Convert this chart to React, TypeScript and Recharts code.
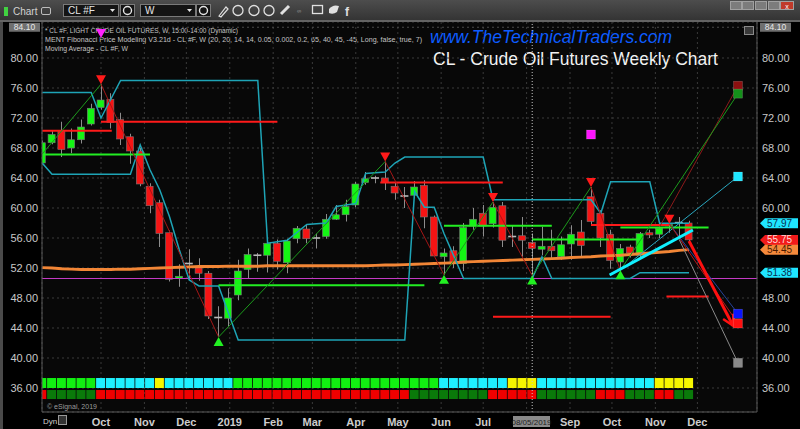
import React from "react";
import {
  ComposedChart,
  Bar,
  Line,
  XAxis,
  YAxis,
  CartesianGrid,
  ReferenceLine,
  ReferenceDot,
} from "recharts";

// weekly bars, week 0 = week of 2018-10-01
const WEEKS = [
  -6, -5, -4, -3, -2, -1,
  0, 1, 2, 3, 4, 5, 6, 7, 8, 9,
  10, 11, 12, 13, 14, 15, 16, 17, 18, 19,
  20, 21, 22, 23, 24, 25, 26, 27, 28, 29,
  30, 31, 32, 33, 34, 35, 36, 37, 38, 39,
  40, 41, 42, 43, 44, 45, 46, 47, 48, 49,
  50, 51, 52, 53, 54, 55, 56, 57, 58, 59,
  60,
];

const OPEN = [
  66.0, 68.7, 70.2, 68.0, 69.1, 71.2,
  73.4, 74.5, 71.8, 69.5, 67.6, 62.9, 60.7, 56.7, 50.6, 52.55,
  52.0, 51.3, 45.35, 45.3, 48.4, 51.8, 53.75, 53.7, 55.3, 52.7,
  55.9, 57.2, 55.95, 56.2, 58.5, 59.1, 60.4, 63.4, 63.95, 64.0,
  62.9, 61.65, 61.7, 63.0, 58.8, 53.5, 54.3, 52.6, 57.6, 59.3,
  57.9, 60.3, 56.15, 56.3, 55.4, 54.5, 54.9, 53.5, 55.2, 56.8,
  61.5, 59.3, 56.5, 52.8, 54.8, 53.7, 56.7, 56.5, 57.6, 58.0,
  58.0,
];
const HIGH = [
  69.0, 70.3, 71.5, 70.6, 71.8, 73.9,
  76.5, 75.3, 72.7, 69.9, 68.0, 63.3, 61.1, 57.0, 52.5, 54.5,
  53.3, 51.6, 46.9, 49.3, 53.1, 54.6, 54.0, 56.0, 55.8, 55.9,
  57.6, 57.8, 56.6, 59.2, 60.4, 61.1, 63.5, 64.8, 64.3, 66.2,
  63.5, 62.8, 63.6, 63.7, 59.0, 54.6, 54.9, 58.0, 60.0, 60.4,
  60.8, 60.8, 57.6, 58.8, 56.6, 57.5, 57.1, 56.2, 57.7, 58.4,
  62.8, 59.7, 57.1, 55.2, 55.1, 56.8, 57.1, 57.7, 57.9, 58.8,
  58.3,
];
const LOW = [
  65.8, 68.5, 66.8, 67.3, 68.6, 71.0,
  73.1, 70.6, 68.4, 65.9, 62.9, 59.3, 54.8, 50.2, 49.5, 50.4,
  50.3, 45.2, 42.8, 44.2, 47.7, 50.6, 51.5, 51.4, 51.8, 51.3,
  55.3, 55.3, 54.6, 55.9, 58.4, 58.2, 60.1, 63.1, 63.3, 62.4,
  61.1, 60.0, 61.3, 57.3, 53.5, 51.1, 52.0, 51.6, 57.1, 56.2,
  57.4, 54.8, 54.8, 53.5, 51.0, 53.7, 53.3, 53.1, 53.1, 53.5,
  57.7, 54.8, 51.9, 51.7, 53.4, 53.3, 56.0, 56.0, 56.7, 56.2,
  55.6,
];
const CLOSE = [
  68.7, 69.8, 67.8, 69.1, 70.8, 73.3,
  74.4, 71.4, 69.2, 67.6, 63.2, 60.3, 56.6, 50.5, 50.9, 52.6,
  51.3, 45.6, 45.4, 48.0, 51.6, 53.8, 53.7, 55.3, 52.9, 55.6,
  57.3, 55.9, 56.0, 58.5, 59.1, 60.2, 63.2, 63.9, 64.0, 63.4,
  62.0, 61.6, 62.8, 58.8, 53.6, 54.0, 52.6, 57.4, 58.5, 57.6,
  60.1, 55.7, 56.2, 55.7, 54.6, 54.9, 54.3, 55.1, 56.5, 55.0,
  58.2, 56.0, 53.0, 54.6, 54.0, 56.6, 56.4, 57.3, 57.8, 58.05,
  55.75,
];

// long moving average
const MA = [
  52.05, 52.0, 51.9, 51.85, 51.8, 51.8,
  51.8, 51.8, 51.85, 51.85, 51.9, 51.95, 52.0, 52.05, 52.1, 52.15,
  52.2, 52.2, 52.2, 52.25, 52.25, 52.25, 52.25, 52.3, 52.3, 52.3,
  52.3, 52.3, 52.3, 52.3, 52.3, 52.3, 52.3, 52.3, 52.35, 52.4,
  52.4, 52.45, 52.5, 52.55, 52.6, 52.65, 52.7, 52.8, 52.85, 52.9,
  52.95, 53.0, 53.05, 53.1, 53.15, 53.2, 53.25, 53.3, 53.4, 53.45,
  53.5, 53.6, 53.65, 53.7, 53.8, 53.9, 54.0, 54.1, 54.2, 54.35,
  54.45,
];

// Fibonacci channel, only the turning points are set
const UPPER = [
  75.4, null, null, null, null, 75.4,
  72.0, null, 77.0, null, null, null, null, null, null, null,
  null, null, null, null, null, null, 77.0, 55.3, null, 55.7,
  null, 57.8, null, 58.0, 60.2, 60.4, 60.6, 64.6, null, 64.8,
  66.0, 66.8, null, null, null, null, null, null, null, 66.8,
  61.1, null, null, null, null, null, null, null, null, null,
  61.1, 59.3, 63.5, null, null, null, 63.5, 57.97, null, null,
  57.97,
];
const LOWER = [
  66.0, 64.5, null, null, null, null,
  null, null, null, 64.5, 68.4, 65.1, 62.4, 58.8, 54.4, 50.4,
  49.6, null, 49.6, null, 42.4, null, null, null, null, null,
  null, null, null, null, null, null, null, null, null, null,
  null, 42.4, 62.2, 60.1, 60.1, 56.6, null, 50.6, null, null,
  null, null, null, null, 50.6, 53.5, 50.6, null, null, null,
  null, null, null, null, 50.6, 51.38, null, null, null, null,
  51.38,
];

// signal strip: g green, c cyan, y yellow / r red, d dark green
const TOP_ROW = (
  "gggggg" + "cccccc" + "y" + "ccccccc" + "ggggggggggggggggggggg" +
  "ccccccc" + "yyy" + "cccccccccccc" + "yyyy"
).split("");
const BOT_ROW = (
  "r" + "ddddd" + "rrrrrrrrrrrrrrrrrrrrrrrrrrrrrrrr" + "dddddddd" +
  "rrrrr" + "dddddd" + "rrr" + "ddd" + "rr" + "dd"
).split("");

const MONTH_TICKS = [0, 4.43, 8.71, 13.14, 17.57, 21.57, 26, 30.29, 34.71, 39, 43.43, 47.86, 52.14, 56.57, 60.86];
const MONTH_LABELS = ["Oct", "Nov", "Dec", "2019", "Feb", "Mar", "Apr", "May", "Jun", "Jul", "Aug", "Sep", "Oct", "Nov", "Dec"];
const PRICE_TICKS = [36, 40, 44, 48, 52, 56, 60, 64, 68, 72, 76, 80];
// 52 and 56 sit under the price tags on the right scale
const RIGHT_TICKS = [36, 40, 44, 48, 60, 64, 68, 72, 76, 80];

// [from week, to week, price]
const RED_LEVELS = [
  [-6, 1.1, 70.3],
  [0, 18, 71.5],
  [28.5, 41, 63.4],
  [50, 58, 57.75],
  [40, 52, 45.5],
  [57.7, 62, 48.2],
];
const GREEN_LEVELS = [
  [-6, 5, 67.15],
  [12, 33, 49.7],
  [35, 46, 57.65],
  [44, 55, 55.8],
  [53, 62, 57.4],
];

// zigzag pivots
const PIVOT_W = [-6, 0, 12, 29, 35, 40, 44, 50, 53];
const PIVOT_V = [67.2, 76.5, 42.8, 66.2, 51.1, 60.8, 51.0, 62.8, 51.7];
const TOP_MARKS = [[0, 76.5], [29, 66.2], [40, 60.8], [50, 62.8], [58, 57.9]];
const BOTTOM_MARKS = [[12, 42.8], [35, 51.1], [44, 51.0], [53, 51.7]];

// projection targets
const TARGET_W = 65;
const TARGET_V = [76.3, 75.25, 64.2, 45.9, 44.6, 39.35];
const TARGET_FROM_W = [57, 53, 53, 58, 58, 59];
const TARGET_FROM_V = [57.5, 51.7, 51.7, 57.9, 57.9, 55.8];
const TREND_FROM = [51.9, 51.07];
const TREND_TO = [60.4, 57.07];
const ARROW_FROM = [60, 55.6];
const ARROW_TO = [64.5, 44.3];

const MAGENTA_LEVEL = 50.6;
const HEADER_PRICE = 84.1;
const CURSOR_WEEK = 44;
const CHANNEL_HIGH = 57.97;
const CHANNEL_LOW = 51.38;
const LAST_PRICE = 55.75;
const MA_LAST = 54.45;

const X_MIN = -6.02;
const X_MAX = 66.94;
const Y_MIN = 32.8;
const Y_MAX = 84.8;
const STRIP = [34.53, 37.33];
const STRIP_GAP = [35.73, 36.0];

const FONT = "'Liberation Sans', Arial, sans-serif";
const TEAL = "#1ea4b6";
const CELL_COLORS: Record<string, string> = {
  g: "#12f012",
  c: "#1ff0ff",
  y: "#f5f500",
  r: "#f00000",
  d: "#0a7a0a",
};
const TARGET_COLORS = ["#8c1010", "#14901a", "#1fe6ff", "#0a14ff", "#ff1010", "#8a8a8a"];
const TARGET_LINES = ["#8c1a1a", "#1c9a1c", "#2aa8c0", "#27439a", "#b51818", "#8a8a8a"];

function Candle(props: any) {
  const { x, y, width, height, payload } = props;
  if (!payload || height == null) return null;
  const { o, h, l, c } = payload;
  const k = height / (h - l);
  const mid = Math.round(x + width / 2) + 0.5;
  const yo = y + (h - o) * k;
  const yc = y + (h - c) * k;
  const doji = Math.abs(c - o) < 0.1;
  const fill = c > o ? "#14f514" : "#f51414";
  return (
    <g>
      <line x1={mid} x2={mid} y1={y} y2={y + height} stroke="#8d8d8d" strokeWidth={1} />
      {doji ? (
        <line x1={x - 0.5} x2={x + width + 0.5} y1={yc} y2={yc} stroke="#b8b8b8" strokeWidth={1.6} />
      ) : (
        <rect
          x={x}
          y={Math.min(yo, yc)}
          width={width}
          height={Math.max(Math.abs(yc - yo), 1.5)}
          fill={fill}
          stroke="#777"
          strokeWidth={0.6}
        />
      )}
    </g>
  );
}

function SignalCell(props: any) {
  const { x, y, width, height, payload } = props;
  if (!payload) return null;
  const k = height / (STRIP[1] - STRIP[0]);
  const topH = (STRIP[1] - STRIP_GAP[1]) * k;
  const botY = y + (STRIP[1] - STRIP_GAP[0]) * k;
  return (
    <g>
      <rect x={x} y={y} width={width} height={topH} fill={CELL_COLORS[payload.top]} />
      <rect x={x} y={botY} width={width} height={y + height - botY} fill={CELL_COLORS[payload.bot]} />
    </g>
  );
}

const downTriangle = (fill: string) => (p: any) => (
  <path d={`M${p.cx - 5} ${p.cy - 9} L${p.cx + 5} ${p.cy - 9} L${p.cx} ${p.cy} Z`} fill={fill} />
);
const upTriangle = (fill: string) => (p: any) => (
  <path d={`M${p.cx - 5} ${p.cy + 9} L${p.cx + 5} ${p.cy + 9} L${p.cx} ${p.cy} Z`} fill={fill} />
);
const square = (fill: string) => (p: any) => (
  <rect x={p.cx - 4.5} y={p.cy - 4.5} width={9} height={9} fill={fill} stroke="rgba(255,255,255,0.25)" strokeWidth={0.6} />
);

const priceTag = (fill: string, ink: string, text: string) => (p: any) => {
  const x = p.cx + 3;
  const y = p.cy;
  return (
    <g>
      <path d={`M${x} ${y} L${x + 5} ${y - 5} H${x + 38} V${y + 5} H${x + 5} Z`} fill={fill} />
      <text x={x + 7} y={y + 3.5} fontSize={10} fill={ink}>
        {text}
      </text>
    </g>
  );
};

const headerTag = (side: "left" | "right") => (p: any) => {
  const x = side === "left" ? p.cx - 33 : p.cx + 3;
  return (
    <g>
      <rect x={x} y={p.cy - 4.5} width={31} height={9} fill="#6f6f6f" />
      <text x={x + 15.5} y={p.cy + 3} fontSize={8.5} fill="#e8e8e8" textAnchor="middle">
        {HEADER_PRICE.toFixed(2)}
      </text>
    </g>
  );
};

function Arrow(p: any) {
  const { x1, y1, x2, y2 } = p;
  const a = Math.atan2(y2 - y1, x2 - x1);
  const len = 12;
  const ax = x2 - len * Math.cos(a - 0.5);
  const ay = y2 - len * Math.sin(a - 0.5);
  const bx = x2 - len * Math.cos(a + 0.5);
  const by = y2 - len * Math.sin(a + 0.5);
  return (
    <g>
      <line x1={x1} y1={y1} x2={x2} y2={y2} stroke="#ff1010" strokeWidth={3} />
      <polyline points={`${ax},${ay} ${x2},${y2} ${bx},${by}`} fill="none" stroke="#ff1010" strokeWidth={2.5} />
    </g>
  );
}

function MonthTick(props: any) {
  const { x, y, payload } = props;
  const label = MONTH_LABELS[MONTH_TICKS.indexOf(payload.value)];
  if (!label || label === "Aug") return null;
  return (
    <text x={x} y={y} dy={9.5} textAnchor="middle" fontSize={11} fontWeight="bold" fill="#cdcdcd">
      {label}
    </text>
  );
}

function Dropdown({ x, w, label }: { x: number; w: number; label: string }) {
  return (
    <g>
      <rect x={x + 0.5} y={4.5} width={w} height={12} fill="#141414" stroke="#7a7a7a" />
      <text x={x + 5} y={14} fontSize={10} fill="#e6e6e6">
        {label}
      </text>
      <path d={`M${x + w - 8} ${9} h5 l-2.5 3 Z`} fill="#e6e6e6" />
    </g>
  );
}

function IconButton({ x }: { x: number }) {
  return (
    <g>
      <rect x={x + 0.5} y={4.5} width={14} height={12} fill="#141414" stroke="#7a7a7a" />
      <circle cx={x + 7.5} cy={10.5} r={4} fill="none" stroke="#e6e6e6" strokeWidth={1.4} />
    </g>
  );
}

function Toolbar() {
  return (
    <svg width={800} height={23} style={{ position: "absolute", left: 0, top: 0 }}>
      <defs>
        <linearGradient id="toolbarBg" x1="0" y1="0" x2="0" y2="1">
          <stop offset="0" stopColor="#4d4d4d" />
          <stop offset="1" stopColor="#343434" />
        </linearGradient>
      </defs>
      <rect x={0} y={0} width={800} height={20} fill="url(#toolbarBg)" />
      <rect x={0} y={20} width={800} height={2} fill="#646464" />
      <rect x={4} y={7} width={4} height={9} fill="#41d241" />
      <text x={13} y={14.5} fontSize={10} fill="#d2d2d2">
        Chart
      </text>
      <rect x={41.5} y={7.5} width={9} height={7} rx={1.5} fill="none" stroke="#bdbdbd" />
      <Dropdown x={63} w={55} label="CL #F" />
      <IconButton x={120} />
      <Dropdown x={140} w={55} label="W" />
      <IconButton x={196} />
      <path d="M219 16 L226 7 L228 9 L221 17 Z" fill="none" stroke="#e0e0e0" strokeWidth={1.2} />
      {[238, 254, 269].map((cx) => (
        <circle key={cx} cx={cx} cy={10.5} r={5} fill="none" stroke="#e0e0e0" strokeWidth={1.3} />
      ))}
      <path d="M281 14 L289 6" stroke="#e0e0e0" strokeWidth={3} />
      <text x={297} y={13} fontSize={6} fill="#9a9a9a">
        ∞
      </text>
      <rect x={312.5} y={5.5} width={10} height={8} fill="none" stroke="#e0e0e0" strokeWidth={1.3} />
      <path d="M329 9 Q333 4 339 6 L337 12 Q333 15 329 13 Z" fill="#e0e0e0" />
      <text x={345} y={16} fontSize={12} fontWeight="bold" fill="#e0e0e0">
        f
      </text>
      {[730, 742, 755, 768].map((bx) => (
        <rect key={bx} x={bx + 0.5} y={1.5} width={11} height={8} fill="#7c7c7c" stroke="#a0a0a0" />
      ))}
      <rect x={780.5} y={1.5} width={13} height={8} fill="#c03a2a" stroke="#a0a0a0" />
      <text x={787} y={8.5} fontSize={7} fill="#fff" textAnchor="middle">
        x
      </text>
    </svg>
  );
}

export default function App() {
  const rows = WEEKS.map((w, i) => ({
    w,
    o: OPEN[i],
    h: HIGH[i],
    l: LOW[i],
    c: CLOSE[i],
    ma: MA[i],
    up: UPPER[i],
    lo: LOWER[i],
    top: TOP_ROW[i],
    bot: BOT_ROW[i],
  }));

  const zigzag = PIVOT_W.slice(1).map((w, i) => ({
    from: { x: PIVOT_W[i], y: PIVOT_V[i] },
    to: { x: w, y: PIVOT_V[i + 1] },
    rising: PIVOT_V[i + 1] > PIVOT_V[i],
  }));

  return (
    <div
      style={{
        position: "relative",
        width: 800,
        height: 429,
        background: "#080808",
        overflow: "hidden",
        fontFamily: FONT,
      }}
    >
      <style>{"body{margin:0;background:#000}"}</style>

      <svg width={800} height={429} style={{ position: "absolute", left: 0, top: 0 }}>
        <rect x={0} y={22} width={42} height={407} fill="#000" />
        <rect x={757} y={22} width={43} height={407} fill="#000" />
        <rect x={0} y={412} width={800} height={17} fill="#000" />
        <rect x={0} y={0} width={3} height={429} fill="#4a4a4a" />
        <text x={45} y={33} fontSize={8} fill="#c4c4c4" textLength={193} lengthAdjust="spacingAndGlyphs">
          * CL #F, LIGHT CRUDE OIL FUTURES, W, 15:00-14:00 (Dynamic)
        </text>
        <text x={45} y={41.5} fontSize={8} fill="#c4c4c4" textLength={377} lengthAdjust="spacingAndGlyphs">
          MENT Fibonacci Price Modeling V3.21d - CL #F, W (20, 20, 14, 14, 0.05, 0.002, 0.2, 65, 40, 45, -45, Long, false, true, 7)
        </text>
        <text x={45} y={50.5} fontSize={8} fill="#c4c4c4" textLength={83} lengthAdjust="spacingAndGlyphs">
          Moving Average - CL #F, W
        </text>
        <text x={430} y={43} fontSize={17.5} fontStyle="italic" fill="#0d5cff">
          www.TheTechnicalTraders.com
        </text>
        <text x={433} y={65} fontSize={17.5} fill="#f2f2f2">
          CL - Crude Oil Futures Weekly Chart
        </text>
        <text x={47} y={409} fontSize={7} fill="#9c9c9c">
          © eSignal, 2019
        </text>
        <text x={43} y={424} fontSize={8} fill="#d0d0d0">
          Dyn
        </text>
        <rect x={58.5} y={415.5} width={8} height={9} fill="#333" stroke="#999" />
      </svg>

      <div style={{ position: "absolute", left: 0, top: 0 }}>
        <ComposedChart width={800} height={429} data={rows} margin={{ top: 22, right: 0, bottom: 0, left: 0 }}>
          <CartesianGrid stroke="#3a3a3a" strokeDasharray="2 3" />
          <XAxis
            dataKey="w"
            type="number"
            domain={[X_MIN, X_MAX]}
            allowDataOverflow
            ticks={MONTH_TICKS}
            interval={0}
            tick={<MonthTick />}
            tickLine={false}
            tickSize={0}
            tickMargin={4}
            height={17}
            axisLine={{ stroke: "#585858" }}
          />
          <XAxis xAxisId="cells" dataKey="w" type="number" domain={[X_MIN, X_MAX]} allowDataOverflow hide />
          <YAxis
            domain={[Y_MIN, Y_MAX]}
            allowDataOverflow
            ticks={PRICE_TICKS}
            tickFormatter={(v: number) => v.toFixed(2)}
            tick={{ fill: "#c8c8c8", fontSize: 11 }}
            tickLine={false}
            tickSize={0}
            tickMargin={4}
            width={42}
            axisLine={{ stroke: "#585858" }}
          />
          <YAxis
            yAxisId="R"
            orientation="right"
            domain={[Y_MIN, Y_MAX]}
            allowDataOverflow
            ticks={RIGHT_TICKS}
            interval={0}
            tickFormatter={(v: number) => v.toFixed(2)}
            tick={{ fill: "#c8c8c8", fontSize: 11 }}
            tickLine={false}
            tickSize={0}
            tickMargin={5}
            width={43}
            axisLine={{ stroke: "#585858" }}
          />

          <ReferenceLine y={HEADER_PRICE} stroke="#4a4a4a" strokeDasharray="2 3" />

          <Bar
            xAxisId="cells"
            dataKey={() => STRIP}
            barSize={9}
            shape={SignalCell}
            isAnimationActive={false}
          />

          <ReferenceLine y={MAGENTA_LEVEL} stroke="#c43ac4" strokeWidth={1.2} />

          <Line dataKey="ma" stroke="#f28636" strokeWidth={3} dot={false} activeDot={false} isAnimationActive={false} />
          <Line dataKey="up" stroke={TEAL} strokeWidth={1.5} dot={false} activeDot={false} connectNulls isAnimationActive={false} />
          <Line dataKey="lo" stroke={TEAL} strokeWidth={1.5} dot={false} activeDot={false} connectNulls isAnimationActive={false} />

          {RED_LEVELS.map((s, i) => (
            <ReferenceLine
              key={`red${i}`}
              segment={[{ x: s[0], y: s[2] }, { x: s[1], y: s[2] }]}
              stroke="#ff1a1a"
              strokeWidth={2}
              ifOverflow="visible"
            />
          ))}
          {GREEN_LEVELS.map((s, i) => (
            <ReferenceLine
              key={`grn${i}`}
              segment={[{ x: s[0], y: s[2] }, { x: s[1], y: s[2] }]}
              stroke="#22ee22"
              strokeWidth={2}
              ifOverflow="visible"
            />
          ))}
          {zigzag.map((z, i) => (
            <ReferenceLine
              key={`zz${i}`}
              segment={[z.from, z.to]}
              stroke={z.rising ? "#1c9a1c" : "#a51616"}
              strokeWidth={1}
              ifOverflow="visible"
            />
          ))}

          <ReferenceLine x={CURSOR_WEEK} stroke="#c8c8c8" strokeDasharray="1 2" />

          <Bar dataKey={(d: any) => [d.l, d.h]} barSize={7} shape={Candle} isAnimationActive={false} />

          {TARGET_V.map((v, i) => (
            <ReferenceLine
              key={`prj${i}`}
              segment={[{ x: TARGET_FROM_W[i], y: TARGET_FROM_V[i] }, { x: TARGET_W, y: v }]}
              stroke={TARGET_LINES[i]}
              strokeWidth={1}
              ifOverflow="visible"
            />
          ))}
          <ReferenceLine
            segment={[{ x: TREND_FROM[0], y: TREND_FROM[1] }, { x: TREND_TO[0], y: TREND_TO[1] }]}
            stroke="#10f0ff"
            strokeWidth={3}
            ifOverflow="visible"
          />
          <ReferenceLine
            segment={[{ x: ARROW_FROM[0], y: ARROW_FROM[1] }, { x: ARROW_TO[0], y: ARROW_TO[1] }]}
            shape={Arrow}
            ifOverflow="visible"
          />

          {TOP_MARKS.map(([w, v]) => (
            <ReferenceDot key={`hm${w}`} x={w} y={v} r={5} shape={downTriangle("#ff1a1a")} ifOverflow="visible" />
          ))}
          {BOTTOM_MARKS.map(([w, v]) => (
            <ReferenceDot key={`lm${w}`} x={w} y={v} r={5} shape={upTriangle("#22f022")} ifOverflow="visible" />
          ))}
          <ReferenceDot x={0} y={82.66} r={5} shape={downTriangle("#ff22ff")} ifOverflow="visible" />
          <ReferenceDot x={50} y={69.8} r={5} shape={square("#ff14ff")} ifOverflow="visible" />
          {TARGET_V.map((v, i) => (
            <ReferenceDot key={`sq${i}`} x={TARGET_W} y={v} r={5} shape={square(TARGET_COLORS[i])} ifOverflow="visible" />
          ))}

          <ReferenceDot x={X_MIN} y={HEADER_PRICE} r={1} shape={headerTag("left")} ifOverflow="visible" />
          <ReferenceDot x={X_MAX} y={HEADER_PRICE} r={1} shape={headerTag("right")} ifOverflow="visible" />
          <ReferenceDot x={X_MAX} y={CHANNEL_HIGH} r={1} shape={priceTag("#1fe6ff", "#0a3050", CHANNEL_HIGH.toFixed(2))} ifOverflow="visible" />
          <ReferenceDot x={X_MAX} y={LAST_PRICE} r={1} shape={priceTag("#f21a1a", "#ffd8d8", LAST_PRICE.toFixed(2))} ifOverflow="visible" />
          <ReferenceDot x={X_MAX} y={MA_LAST} r={1} shape={priceTag("#f58a3c", "#4a1a00", MA_LAST.toFixed(2))} ifOverflow="visible" />
          <ReferenceDot x={X_MAX} y={CHANNEL_LOW} r={1} shape={priceTag("#1fe6ff", "#0a3050", CHANNEL_LOW.toFixed(2))} ifOverflow="visible" />
        </ComposedChart>
      </div>

      <Toolbar />

      <svg width={800} height={429} style={{ position: "absolute", left: 0, top: 0, pointerEvents: "none" }}>
        <rect x={744.5} y={26.5} width={9} height={8} fill="#3a3a3a" stroke="#8a8a8a" />
        <rect x={513} y={416} width={37} height={11} fill="#8a8a8a" />
        <text x={531.5} y={424.5} fontSize={8} fill="#1e1e1e" textAnchor="middle">
          08/05/2019
        </text>
      </svg>
    </div>
  );
}
